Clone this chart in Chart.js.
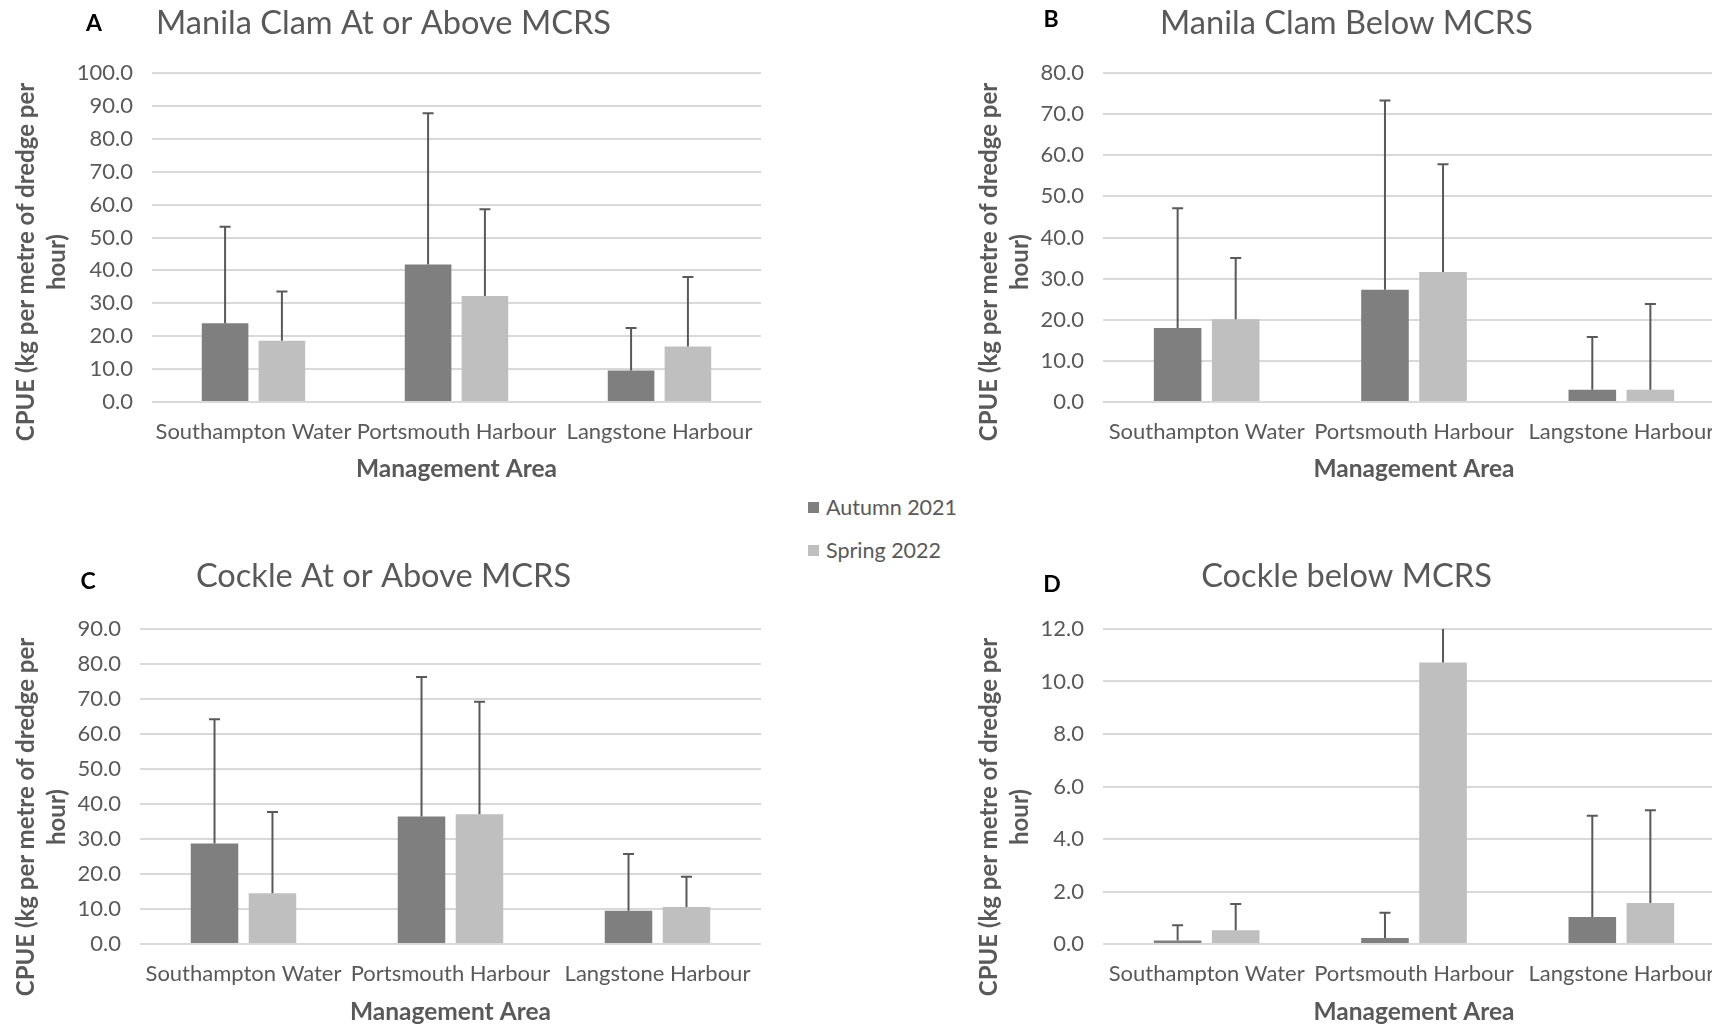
<!DOCTYPE html>
<html>
<head>
<meta charset="UTF-8">
<title>CPUE by Management Area</title>
<script src="https://cdn.jsdelivr.net/npm/chart.js@4.4.0/dist/chart.umd.min.js"></script>
<style>
    html, body { margin: 0; padding: 0; background: #fff; }
    body {
        width: 1712px;
        height: 1027px;
        position: relative;
        overflow: hidden;
        font-family: Lato, sans-serif;
        color: #595959;
    }
    canvas { position: absolute; }
    .letter {
        position: absolute;
        font-size: 23px;
        font-weight: bold;
        color: #000;
        transform: translate(-50%, -50%);
    }
    .ytitle {
        position: absolute;
        width: 440px;
        height: 62px;
        line-height: 31px;
        font-size: 24px;
        font-weight: bold;
        text-align: center;
        white-space: nowrap;
        transform: translate(-50%, -50%) rotate(-90deg);
    }
    .legend-item {
        position: absolute;
        display: flex;
        align-items: center;
        height: 26px;
        font-size: 21.5px;
        white-space: nowrap;
    }
    .legend-item span {
        display: inline-block;
        width: 11px;
        height: 11px;
        margin-right: 7px;
    }
</style>
</head>
<body>
<canvas id="chartA"></canvas>
<canvas id="chartB"></canvas>
<canvas id="chartC"></canvas>
<canvas id="chartD"></canvas>

<script>
    const categories = ['Southampton Water', 'Portsmouth Harbour', 'Langstone Harbour'];
    const seriesNames = ['Autumn 2021', 'Spring 2022'];
    const yTitleLines = ['CPUE (kg per metre of dredge per', 'hour)'];
    const xTitle = 'Management Area';

    // A - Manila clam at or above MCRS (mean, plus-error length)
    const clamAboveAutumn = [23.9, 41.8, 9.6];
    const clamAboveSpring = [18.6, 32.2, 16.9];
    const clamAboveAutumnErr = [29.4, 46.0, 12.9];
    const clamAboveSpringErr = [15.0, 26.4, 21.1];

    // B - Manila clam below MCRS
    const clamBelowAutumn = [18.0, 27.3, 3.0];
    const clamBelowSpring = [20.1, 31.6, 3.0];
    const clamBelowAutumnErr = [29.1, 46.0, 12.8];
    const clamBelowSpringErr = [14.9, 26.2, 20.8];

    // C - Cockle at or above MCRS
    const cockleAboveAutumn = [28.7, 36.4, 9.5];
    const cockleAboveSpring = [14.5, 37.1, 10.6];
    const cockleAboveAutumnErr = [35.5, 39.9, 16.2];
    const cockleAboveSpringErr = [23.2, 32.1, 8.6];

    // D - Cockle below MCRS
    const cockleBelowAutumn = [0.13, 0.23, 1.03];
    const cockleBelowSpring = [0.52, 10.72, 1.56];
    const cockleBelowAutumnErr = [0.58, 0.96, 3.86];
    const cockleBelowSpringErr = [1.00, 2.8, 3.54];

    const autumnColor = '#7f7f7f';
    const springColor = '#bfbfbf';
    const textColor = '#595959';

    Chart.defaults.font.family = 'Lato, sans-serif';
    Chart.defaults.color = textColor;

    const panels = [
        { id: 'chartA', letter: 'A', letterX: 94, letterY: 22, title: 'Manila Clam At or Above MCRS',
          autumn: clamAboveAutumn, spring: clamAboveSpring, autumnErr: clamAboveAutumnErr, springErr: clamAboveSpringErr,
          yMax: 100, yStep: 10,
          left: 0, top: 0, width: 767, height: 500,
          area: { left: 152, top: 73, right: 761, bottom: 402 }, titleY: 23, xTitleY: 469, yTitleX: 39.5, yTitleY: 262 },
        { id: 'chartB', letter: 'B', letterX: 1051, letterY: 18, title: 'Manila Clam Below MCRS',
          autumn: clamBelowAutumn, spring: clamBelowSpring, autumnErr: clamBelowAutumnErr, springErr: clamBelowSpringErr,
          yMax: 80, yStep: 10,
          left: 963, top: 0, width: 767, height: 500,
          area: { left: 140, top: 73, right: 762, bottom: 402 }, titleY: 23, xTitleY: 469, yTitleX: 39.5, yTitleY: 262 },
        { id: 'chartC', letter: 'C', letterX: 88, letterY: 580, title: 'Cockle At or Above MCRS',
          autumn: cockleAboveAutumn, spring: cockleAboveSpring, autumnErr: cockleAboveAutumnErr, springErr: cockleAboveSpringErr,
          yMax: 90, yStep: 10,
          left: 0, top: 554, width: 767, height: 473,
          area: { left: 140, top: 75, right: 761, bottom: 390 }, titleY: 22, xTitleY: 458, yTitleX: 39.5, yTitleY: 263 },
        { id: 'chartD', letter: 'D', letterX: 1052, letterY: 583, title: 'Cockle below MCRS',
          autumn: cockleBelowAutumn, spring: cockleBelowSpring, autumnErr: cockleBelowAutumnErr, springErr: cockleBelowSpringErr,
          yMax: 12, yStep: 2,
          left: 963, top: 554, width: 767, height: 473,
          area: { left: 140, top: 75, right: 762, bottom: 390 }, titleY: 22, xTitleY: 458, yTitleX: 39.5, yTitleY: 263 }
    ];

    // plus-only error bars with caps, drawn on top of the bars
    const errorBars = {
        id: 'errorBars',
        afterDatasetsDraw(chart) {
            const {ctx, chartArea, scales: {y}} = chart;
            ctx.save();
            ctx.beginPath();
            ctx.rect(chartArea.left, chartArea.top, chartArea.width, chartArea.height);
            ctx.clip();
            ctx.strokeStyle = textColor;
            ctx.lineWidth = 2;
            chart.data.datasets.forEach((ds, i) => {
                chart.getDatasetMeta(i).data.forEach((bar, j) => {
                    const top = y.getPixelForValue(ds.data[j] + ds.errorPlus[j]);
                    ctx.beginPath();
                    ctx.moveTo(bar.x, bar.y);
                    ctx.lineTo(bar.x, top);
                    ctx.moveTo(bar.x - 5.5, top);
                    ctx.lineTo(bar.x + 5.5, top);
                    ctx.stroke();
                });
            });
            ctx.restore();
        }
    };

    function buildChart(p) {
        const canvas = document.getElementById(p.id);
        canvas.width = p.width;
        canvas.height = p.height;
        canvas.style.left = p.left + 'px';
        canvas.style.top = p.top + 'px';

        const titleSize = 32.6;
        const xTitleSize = 24.5;
        const titleLH = titleSize * 1.2;
        const xTitleLH = xTitleSize * 1.2;
        const side = p.width - p.area.right; // equal side padding keeps the title centred on the canvas

        return new Chart(canvas, {
            type: 'bar',
            data: {
                labels: categories,
                datasets: [{
                    label: seriesNames[0],
                    data: p.autumn,
                    errorPlus: p.autumnErr,
                    backgroundColor: autumnColor,
                    categoryPercentage: 0.56,
                    barPercentage: 0.82
                }, {
                    label: seriesNames[1],
                    data: p.spring,
                    errorPlus: p.springErr,
                    backgroundColor: springColor,
                    categoryPercentage: 0.56,
                    barPercentage: 0.82
                }]
            },
            options: {
                responsive: false,
                animation: false,
                layout: {
                    padding: { left: side, top: 0, right: side, bottom: 0 }
                },
                plugins: {
                    legend: { display: false },
                    tooltip: { enabled: false },
                    title: {
                        display: true,
                        text: p.title,
                        color: textColor,
                        font: { size: titleSize, weight: 'normal' },
                        padding: {
                            top: p.titleY - titleLH / 2,
                            bottom: p.area.top - p.titleY - titleLH / 2
                        }
                    }
                },
                scales: {
                    x: {
                        grid: { display: false },
                        border: { display: false },
                        ticks: {
                            color: textColor,
                            font: { size: 22 },
                            padding: 9,
                            maxRotation: 0,
                            minRotation: 0,
                            autoSkip: false
                        },
                        title: {
                            display: true,
                            text: xTitle,
                            color: textColor,
                            font: { size: xTitleSize, weight: 'bold' },
                            padding: { top: 0, bottom: p.height - p.xTitleY - xTitleLH / 2 }
                        },
                        afterFit: s => { s.height = p.height - p.area.bottom; }
                    },
                    y: {
                        min: 0,
                        max: p.yMax,
                        ticks: {
                            stepSize: p.yStep,
                            color: textColor,
                            font: { size: 22 },
                            padding: 19,
                            callback: v => v.toFixed(1)
                        },
                        grid: { color: '#d9d9d9', lineWidth: 2, drawTicks: false },
                        border: { display: false },
                        afterFit: s => { s.width = p.area.left - side; }
                    }
                }
            },
            plugins: [errorBars]
        });
    }

    panels.forEach(p => {
        buildChart(p);

        const letter = document.createElement('div');
        letter.className = 'letter';
        letter.textContent = p.letter;
        letter.style.left = p.letterX + 'px';
        letter.style.top = p.letterY + 'px';
        document.body.appendChild(letter);

        const yt = document.createElement('div');
        yt.className = 'ytitle';
        yt.innerHTML = yTitleLines.join('<br>');
        yt.style.left = (p.left + p.yTitleX) + 'px';
        yt.style.top = (p.top + p.yTitleY) + 'px';
        document.body.appendChild(yt);
    });

    // shared legend between the panels
    [autumnColor, springColor].forEach((c, i) => {
        const item = document.createElement('div');
        item.className = 'legend-item';
        item.style.left = '808px';
        item.style.top = (494 + i * 43) + 'px';
        const sw = document.createElement('span');
        sw.style.background = c;
        item.appendChild(sw);
        item.appendChild(document.createTextNode(seriesNames[i]));
        document.body.appendChild(item);
    });
</script>
</body>
</html>
